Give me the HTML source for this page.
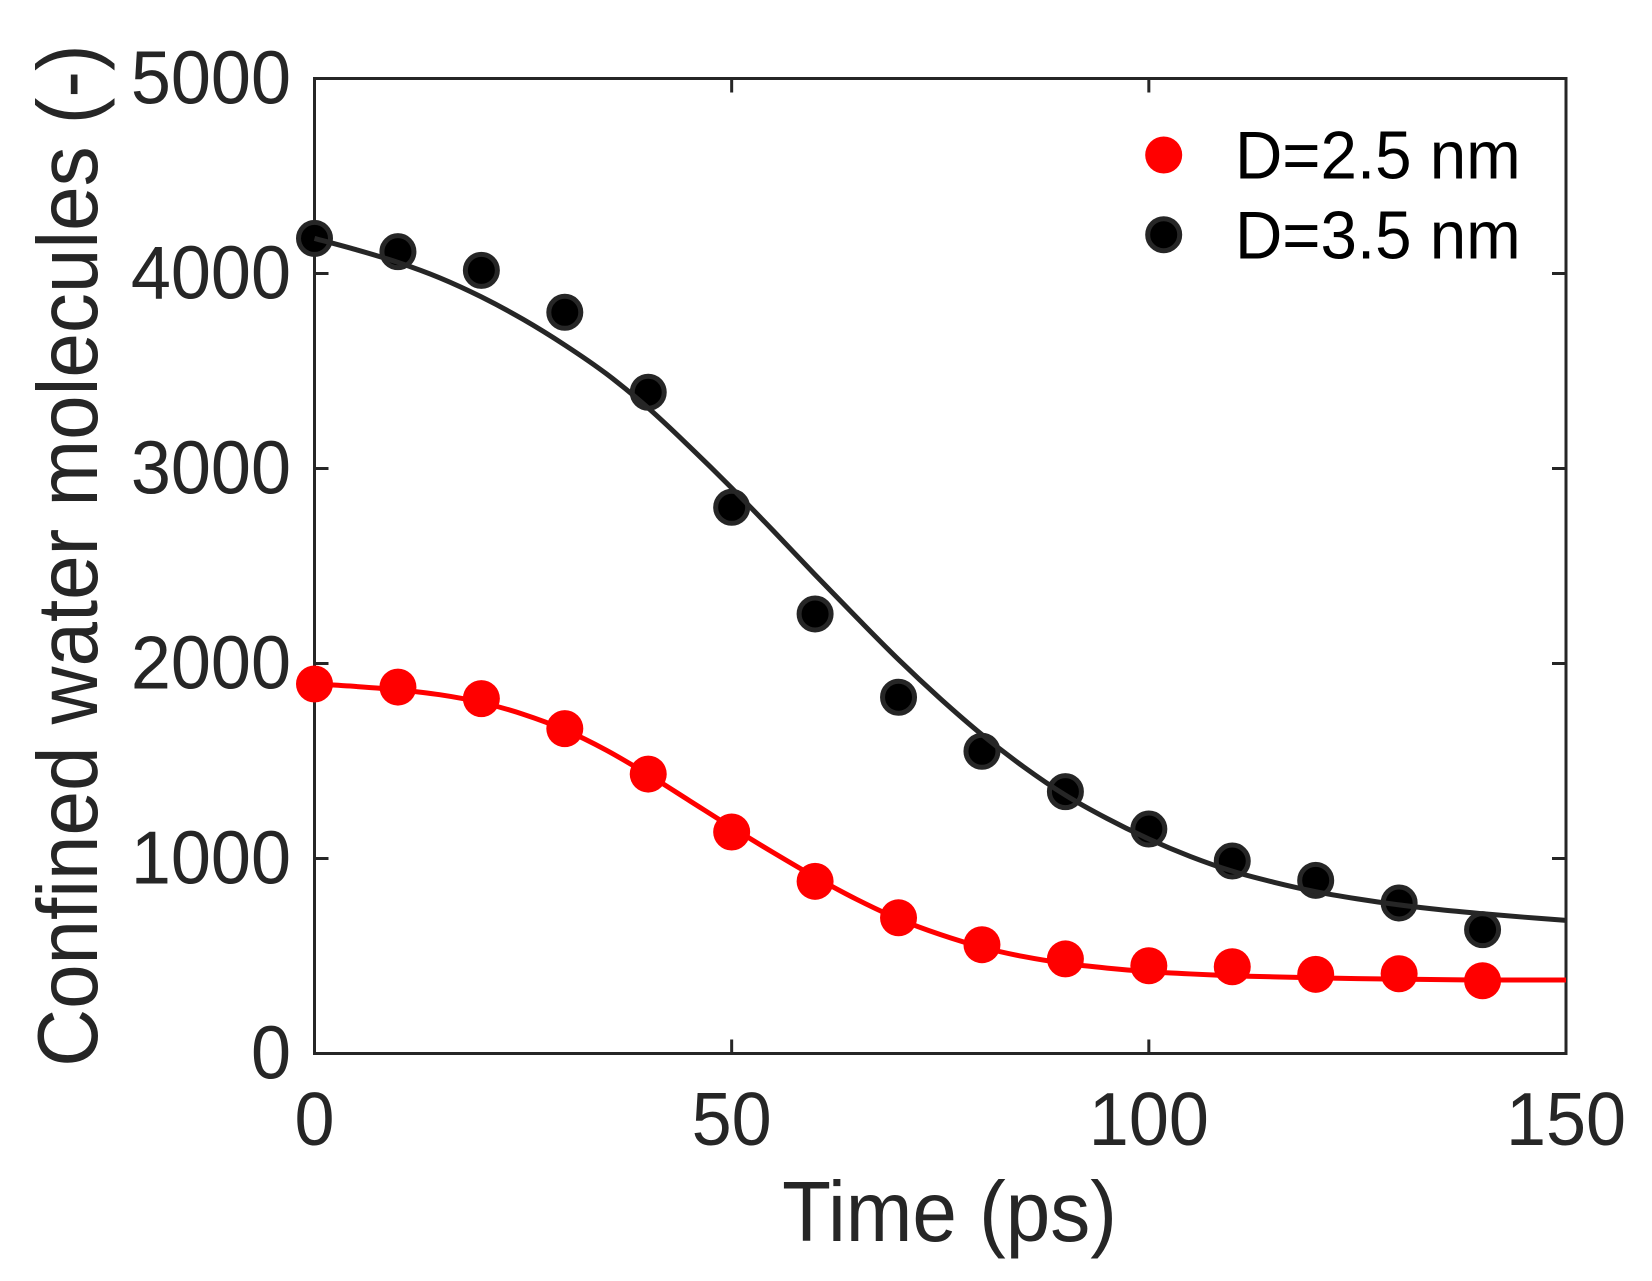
<!DOCTYPE html>
<html lang="en">
<head>
<meta charset="utf-8">
<title>Confined water molecules vs time</title>
<style>
html,body{margin:0;padding:0;background:#fff;}
svg{display:block;font-family:"Liberation Sans",Arial,sans-serif;}
</style>
</head>
<body>
<svg id="chart" xmlns="http://www.w3.org/2000/svg" width="1652" height="1281" viewBox="0 0 1652 1281">
<rect x="0" y="0" width="1652" height="1281" fill="#fff"/>
<g id="ticks"></g>
<g id="tick-labels"></g>
<rect x="314.5" y="78.5" width="1251.5" height="975" fill="none" stroke="#262626" stroke-width="3"/>
<text transform="translate(949.5,1241) scale(1,1.07)" font-size="80" fill="#262626" text-anchor="middle">Time (ps)</text>
<text transform="translate(97,555.5) rotate(-90) scale(1,1.07)" font-size="80" fill="#262626" text-anchor="middle">Confined water molecules (-)</text>
<g id="series"></g>
<g>
  <circle cx="1163.7" cy="155" r="18.5" fill="#ff0000"/>
  <text transform="translate(1235,178.3) scale(1,1.03)" font-size="65.5" fill="#000">D=2.5 nm</text>
  <circle cx="1163.7" cy="234.7" r="16" fill="#000" stroke="#262626" stroke-width="5"/>
  <text transform="translate(1235,258.3) scale(1,1.03)" font-size="65.5" fill="#000">D=3.5 nm</text>
</g>
</svg>
<script>
const xTicks = [0, 50, 100, 150];
const yTicks = [0, 1000, 2000, 3000, 4000, 5000];
const pointTimes = [0, 10, 20, 30, 40, 50, 60, 70, 80, 90, 100, 110, 120, 130, 140];
const pointsD25 = [1895, 1879, 1820, 1666, 1433, 1136, 883, 696, 558, 485, 450, 445, 406, 409, 373];
const pointsD35 = [4180, 4112, 4016, 3801, 3391, 2801, 2254, 1827, 1550, 1343, 1151, 987, 888, 772, 635];
const curveTimes = [0, 5, 10, 15, 20, 25, 30, 35, 40, 45, 50, 55, 60, 65, 70, 75, 80, 85, 90, 95, 100, 105, 110, 115, 120, 125, 130, 135, 140, 145, 150];
const curveD25 = [1895, 1882, 1865, 1840, 1800, 1740, 1660, 1555, 1430, 1295, 1160, 1030, 905, 790, 690, 610, 545, 497, 462, 438, 420, 408, 399, 393, 388, 384, 381, 379, 377, 377, 377];
const curveD35 = [4180, 4122, 4057, 3978, 3880, 3765, 3633, 3485, 3310, 3110, 2900, 2680, 2455, 2235, 2020, 1820, 1635, 1470, 1325, 1205, 1100, 1010, 935, 878, 830, 793, 762, 737, 717, 699, 683];

const NS = 'http://www.w3.org/2000/svg';
const plot = {left: 314.5, right: 1566, top: 78.5, bottom: 1053.5};
const xMax = 150, yMax = 5000, tickLen = 14;
const sx = t => plot.left + (t / xMax) * (plot.right - plot.left);
const sy = v => plot.bottom - (v / yMax) * (plot.bottom - plot.top);

function mk(tag, attrs, parent) {
  const el = document.createElementNS(NS, tag);
  for (const k in attrs) el.setAttribute(k, attrs[k]);
  parent.appendChild(el);
  return el;
}

const tickG = document.getElementById('ticks');
const labelG = document.getElementById('tick-labels');
const tickStyle = {stroke: '#262626', 'stroke-width': 3};

xTicks.forEach(t => {
  const x = sx(t);
  const b = mk('line', {x1: x, x2: x, y1: plot.bottom, y2: plot.bottom - tickLen, ...tickStyle}, tickG);
  
  
  const a = mk('line', {x1: x, x2: x, y1: plot.top, y2: plot.top + tickLen, ...tickStyle}, tickG);
  
  
  const l = mk('text', {transform: 'translate(' + x + ',1145) scale(1,1.04)', 'font-size': 72, fill: '#262626', 'text-anchor': 'middle'}, labelG);
  
  
  l.textContent = String(t);
});

yTicks.forEach(v => {
  const y = sy(v);
  const b = mk('line', {x1: plot.left, x2: plot.left + tickLen, y1: y, y2: y, ...tickStyle}, tickG);
  
  
  const a = mk('line', {x1: plot.right, x2: plot.right - tickLen, y1: y, y2: y, ...tickStyle}, tickG);
  
  
  const l = mk('text', {transform: 'translate(291,' + (y + 25) + ') scale(1,1.04)', 'font-size': 72, fill: '#262626', 'text-anchor': 'end'}, labelG);
  
  
  l.textContent = String(v);
});

function smoothPath(ts, vs) {
  const p = ts.map((t, i) => [sx(t), sy(vs[i])]);
  let d = 'M' + p[0][0].toFixed(2) + ' ' + p[0][1].toFixed(2);
  for (let i = 0; i < p.length - 1; i++) {
    const a = p[Math.max(i - 1, 0)], b = p[i], c = p[i + 1], e = p[Math.min(i + 2, p.length - 1)];
    const c1x = b[0] + (c[0] - a[0]) / 6, c1y = b[1] + (c[1] - a[1]) / 6;
    const c2x = c[0] - (e[0] - b[0]) / 6, c2y = c[1] - (e[1] - b[1]) / 6;
    d += 'C' + c1x.toFixed(2) + ' ' + c1y.toFixed(2) + ' ' + c2x.toFixed(2) + ' ' + c2y.toFixed(2) + ' ' + c[0].toFixed(2) + ' ' + c[1].toFixed(2);
  }
  return d;
}

const seriesG = document.getElementById('series');

pointTimes.forEach((t, i) => {
  const c = mk('circle', {cx: sx(t), cy: sy(pointsD25[i]), r: 18.5, fill: '#ff0000'}, seriesG);
  
  
});
const redLine = mk('path', {d: smoothPath(curveTimes, curveD25), fill: 'none', stroke: '#ff0000', 'stroke-width': 5}, seriesG);



pointTimes.forEach((t, i) => {
  const c = mk('circle', {cx: sx(t), cy: sy(pointsD35[i]), r: 16, fill: '#000', stroke: '#262626', 'stroke-width': 5}, seriesG);
  
  
});
const blackLine = mk('path', {d: smoothPath(curveTimes, curveD35), fill: 'none', stroke: '#262626', 'stroke-width': 5}, seriesG);


</script>
</body>
</html>
